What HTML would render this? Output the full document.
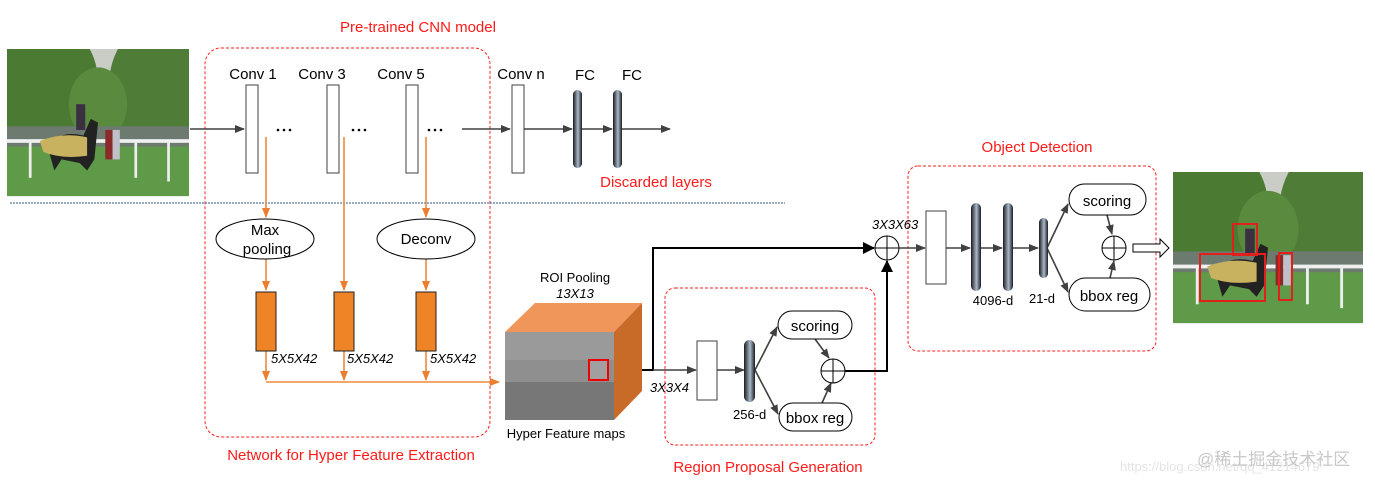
<!DOCTYPE html>
<html><head><meta charset="utf-8"><style>
html,body{margin:0;padding:0;background:#fff;}
svg{display:block;}
text{font-family:"Liberation Sans",Arial,sans-serif;}
</style></head><body>
<svg width="1375" height="485" viewBox="0 0 1375 485" xmlns="http://www.w3.org/2000/svg">
<defs>
<marker id="ab" markerWidth="10" markerHeight="10" refX="9" refY="5" orient="auto" markerUnits="userSpaceOnUse"><path d="M0,1 L10,5 L0,9 z" fill="#404040"/></marker>
<marker id="ak" markerWidth="12" markerHeight="12" refX="11" refY="6" orient="auto" markerUnits="userSpaceOnUse"><path d="M0,0 L12,6 L0,12 z" fill="#000"/></marker>
<marker id="ao" markerWidth="10" markerHeight="10" refX="9" refY="5" orient="auto" markerUnits="userSpaceOnUse"><path d="M0,1 L10,5 L0,9 z" fill="#ed7d31"/></marker>
<linearGradient id="fc" x1="0" x2="1" y1="0" y2="0"><stop offset="0" stop-color="#1a1a1a"/><stop offset="0.55" stop-color="#a9b9cc"/><stop offset="1" stop-color="#1a1a1a"/></linearGradient>
<clipPath id="pc"><rect x="0" y="0" width="100" height="80"/></clipPath>
<g id="photo" clip-path="url(#pc)">
<rect x="0" y="0" width="100" height="80" fill="#c9cdc6"/>
<ellipse cx="20" cy="18" rx="30" ry="34" fill="#4b7a33"/>
<ellipse cx="82" cy="20" rx="26" ry="34" fill="#4f7d38"/>
<ellipse cx="50" cy="30" rx="16" ry="20" fill="#5a8a3e"/>
<rect x="0" y="42" width="100" height="12" fill="#6d7a70"/>
<rect x="0" y="53" width="100" height="27" fill="#5f9a48"/>
<rect x="0" y="49" width="100" height="2" fill="#f0f0f0"/>
<path d="M22,52 Q30,44 42,47 L46,38 L50,40 L48,60 L44,66 L40,62 L30,60 L26,66 Z" fill="#222"/>
<path d="M18,50 Q30,45 44,48 L44,58 Q30,60 20,56 Z" fill="#c8b260"/>
<rect x="38" y="30" width="5" height="14" fill="#3a3040"/>
<rect x="54" y="44" width="4" height="16" fill="#8a2a2a"/>
<rect x="58" y="44" width="4" height="16" fill="#c0c0c8"/>
<rect x="70" y="50" width="1.5" height="20" fill="#eee"/>
<rect x="88" y="50" width="1.5" height="22" fill="#eee"/>
<rect x="12" y="50" width="1.5" height="20" fill="#eee"/>
</g>
</defs>

<g transform="translate(7,49) scale(1.82,1.84)"><use href="#photo"/></g>
<g transform="translate(1173,172) scale(1.9,1.89)"><use href="#photo"/></g>
<g fill="none" stroke="#e0201a" stroke-width="2">
<rect x="1233" y="224" width="24" height="31"/>
<rect x="1200" y="254" width="65" height="47"/>
<rect x="1279" y="253" width="13" height="47"/>
</g>

<g fill="none" stroke="#ff2020" stroke-width="1" stroke-dasharray="3,2">
<rect x="205" y="48" width="285" height="389" rx="16"/>
<rect x="665" y="288" width="210" height="157" rx="10"/>
<rect x="908" y="166" width="248" height="185" rx="10"/>
</g>
<g fill="#ff1a1a" font-size="15" text-anchor="middle">
<text x="418" y="32">Pre-trained CNN model</text>
<text x="656" y="187">Discarded layers</text>
<text x="351" y="460">Network for Hyper Feature Extraction</text>
<text x="768" y="472">Region Proposal Generation</text>
<text x="1037" y="152">Object Detection</text>
</g>

<line x1="10" y1="203" x2="785" y2="203" stroke="#2e5a8a" stroke-width="1" stroke-dasharray="2,1"/>

<g font-size="15" fill="#000" text-anchor="middle">
<text x="253" y="79">Conv 1</text><text x="322" y="79">Conv 3</text><text x="401" y="79">Conv 5</text>
<text x="521" y="79">Conv n</text><text x="585" y="80">FC</text><text x="632" y="80">FC</text>
</g>
<g stroke="#404040" stroke-width="1.6" fill="none">
<line x1="190" y1="129" x2="244" y2="129" marker-end="url(#ab)"/>
<line x1="462" y1="129" x2="510" y2="129" marker-end="url(#ab)"/>
<line x1="524" y1="129" x2="572" y2="129" marker-end="url(#ab)"/>
<line x1="581" y1="129" x2="612" y2="129" marker-end="url(#ab)"/>
<line x1="621" y1="129" x2="670" y2="129" marker-end="url(#ab)"/>
</g>
<g fill="#fff" stroke="#404040" stroke-width="1">
<rect x="246" y="85" width="12" height="88"/><rect x="327" y="85" width="12" height="88"/>
<rect x="406" y="85" width="12" height="88"/><rect x="512" y="85" width="12" height="88"/>
</g>
<g fill="#000">
<circle cx="278" cy="130" r="1.3"/><circle cx="284" cy="130" r="1.3"/><circle cx="290" cy="130" r="1.3"/>
<circle cx="353" cy="130" r="1.3"/><circle cx="359" cy="130" r="1.3"/><circle cx="365" cy="130" r="1.3"/>
<circle cx="429" cy="130" r="1.3"/><circle cx="435" cy="130" r="1.3"/><circle cx="441" cy="130" r="1.3"/>
</g>
<rect x="573" y="90" width="9" height="78" rx="4.5" fill="url(#fc)"/>
<rect x="613" y="90" width="9" height="78" rx="4.5" fill="url(#fc)"/>

<g stroke="#ed8a3e" stroke-width="1.6" fill="none">
<line x1="266" y1="137" x2="266" y2="217" marker-end="url(#ao)"/>
<line x1="266" y1="259" x2="266" y2="290" marker-end="url(#ao)"/>
<line x1="344" y1="137" x2="344" y2="290" marker-end="url(#ao)"/>
<line x1="426" y1="137" x2="426" y2="217" marker-end="url(#ao)"/>
<line x1="426" y1="259" x2="426" y2="290" marker-end="url(#ao)"/>
<line x1="266" y1="351" x2="266" y2="380" marker-end="url(#ao)"/>
<line x1="344" y1="351" x2="344" y2="380" marker-end="url(#ao)"/>
<line x1="426" y1="351" x2="426" y2="380" marker-end="url(#ao)"/>
<line x1="266" y1="382" x2="499" y2="382" marker-end="url(#ao)"/>
</g>
<g fill="#fff" stroke="#000" stroke-width="1">
<ellipse cx="265" cy="239" rx="49" ry="20"/><ellipse cx="426" cy="239" rx="49" ry="20"/>
</g>
<g font-size="15" fill="#000" text-anchor="middle">
<text x="265" y="235">Max</text><text x="267" y="254">pooling</text><text x="426" y="244">Deconv</text>
</g>
<g fill="#ee8426" stroke="#222" stroke-width="1">
<rect x="256" y="292" width="20" height="59"/><rect x="334" y="292" width="20" height="59"/><rect x="416" y="292" width="20" height="59"/>
</g>
<g font-size="13" font-style="italic" fill="#000">
<text x="271" y="363">5X5X42</text><text x="347" y="363">5X5X42</text><text x="430" y="363">5X5X42</text>
</g>

<polygon points="505,332 535,303 642,303 614,332" fill="#f0965a"/>
<polygon points="614,332 642,303 642,391 614,420" fill="#c86a28"/>
<rect x="505" y="332" width="109" height="88" fill="#8f8f8f"/>
<rect x="505" y="332" width="109" height="28" fill="#9a9a9a"/>
<rect x="505" y="382" width="109" height="38" fill="#777"/>
<rect x="589" y="360" width="19" height="20" fill="#a0a0a0" stroke="#e00" stroke-width="2"/>
<g font-size="13" fill="#000" text-anchor="middle">
<text x="575" y="282">ROI Pooling</text><text x="575" y="298" font-style="italic">13X13</text>
<text x="566" y="438">Hyper Feature maps</text>
</g>

<g stroke="#000" stroke-width="2" fill="none">
<polyline points="642,370 653,370 653,248 874,248" marker-end="url(#ak)"/>
<polyline points="845,371 887,371 887,261" marker-end="url(#ak)"/>
</g>
<g stroke="#404040" stroke-width="1.6" fill="none">
<line x1="653" y1="370" x2="696" y2="370" marker-end="url(#ab)"/>
<line x1="717" y1="370" x2="744" y2="370" marker-end="url(#ab)"/>
<line x1="755" y1="370" x2="777" y2="327" marker-end="url(#ab)"/>
<line x1="755" y1="370" x2="778" y2="414" marker-end="url(#ab)"/>
<line x1="815" y1="339" x2="829" y2="358" marker-end="url(#ab)"/>
<line x1="822" y1="403" x2="831" y2="383" marker-end="url(#ab)"/>
</g>
<rect x="697" y="341" width="20" height="59" fill="#fff" stroke="#404040"/>
<rect x="744" y="340" width="11" height="62" rx="5.5" fill="url(#fc)"/>
<g fill="#fff" stroke="#000" stroke-width="1">
<rect x="778" y="311" width="74" height="28" rx="14"/>
<rect x="779" y="403" width="73" height="28" rx="14"/>
<circle cx="833" cy="371" r="12"/>
<line x1="821" y1="371" x2="845" y2="371"/><line x1="833" y1="359" x2="833" y2="383"/>
</g>
<g font-size="15" fill="#000" text-anchor="middle">
<text x="815" y="331">scoring</text><text x="815" y="423">bbox reg</text>
</g>
<text x="650" y="392" font-size="13" font-style="italic" fill="#000">3X3X4</text>
<text x="733" y="419" font-size="13" fill="#000">256-d</text>

<g fill="#fff" stroke="#000" stroke-width="1">
<circle cx="887" cy="248" r="12"/>
<line x1="875" y1="248" x2="899" y2="248"/><line x1="887" y1="236" x2="887" y2="260"/>
</g>
<text x="872" y="229" font-size="13" font-style="italic" fill="#000">3X3X63</text>
<g stroke="#404040" stroke-width="1.6" fill="none">
<line x1="899" y1="248" x2="925" y2="248" marker-end="url(#ab)"/>
<line x1="946" y1="248" x2="970" y2="248" marker-end="url(#ab)"/>
<line x1="980" y1="248" x2="1002" y2="248" marker-end="url(#ab)"/>
<line x1="1012" y1="248" x2="1038" y2="248" marker-end="url(#ab)"/>
<line x1="1047" y1="248" x2="1068" y2="204" marker-end="url(#ab)"/>
<line x1="1047" y1="248" x2="1068" y2="292" marker-end="url(#ab)"/>
<line x1="1107" y1="215" x2="1112" y2="234" marker-end="url(#ab)"/>
<line x1="1110" y1="278" x2="1114" y2="261" marker-end="url(#ab)"/>
</g>
<rect x="926" y="211" width="20" height="73" fill="#fff" stroke="#404040"/>
<rect x="971" y="203" width="10" height="88" rx="5" fill="url(#fc)"/>
<rect x="1003" y="203" width="10" height="88" rx="5" fill="url(#fc)"/>
<rect x="1039" y="218" width="9" height="60" rx="4.5" fill="url(#fc)"/>
<g fill="#fff" stroke="#000" stroke-width="1">
<rect x="1069" y="184" width="77" height="31" rx="15.5"/>
<rect x="1069" y="278" width="81" height="33" rx="16.5"/>
<circle cx="1114" cy="248" r="12"/>
<line x1="1102" y1="248" x2="1126" y2="248"/><line x1="1114" y1="236" x2="1114" y2="260"/>
</g>
<g font-size="15" fill="#000" text-anchor="middle">
<text x="1107" y="206">scoring</text><text x="1109" y="301">bbox reg</text>
</g>
<text x="993" y="305" font-size="13" fill="#000" text-anchor="middle">4096-d</text>
<text x="1042" y="303" font-size="13" fill="#000" text-anchor="middle">21-d</text>
<polygon points="1133,244 1160,244 1160,239 1169,248 1160,257 1160,252 1133,252" fill="#fff" stroke="#000" stroke-width="1"/>

<text x="1120" y="471" font-size="13" fill="#e4e4e4">https://blog.csdn.net/qq_41214679</text>
<text x="1197" y="465" font-size="17" fill="#c8c8c8" style="font-family:'Liberation Sans','Noto Sans CJK SC',sans-serif">@稀土掘金技术社区</text>
</svg>
</body></html>
